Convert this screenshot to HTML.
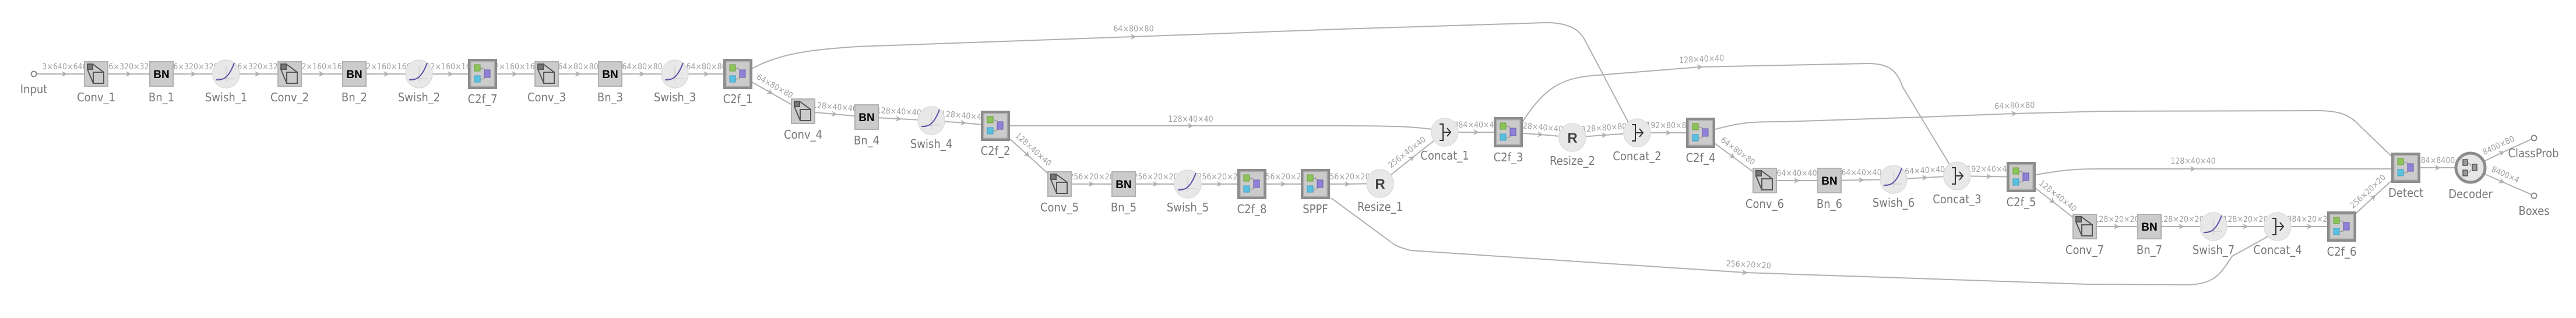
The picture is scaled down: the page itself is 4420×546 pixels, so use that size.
<!DOCTYPE html>
<html><head><meta charset="utf-8"><style>
html,body{margin:0;padding:0;background:#fff;}
svg{display:block;}
.el{font-family:"DejaVu Sans Condensed","Liberation Sans",sans-serif;font-size:14px;fill:#a0a0a0;text-anchor:middle;}
.nl{font-family:"DejaVu Sans Condensed","Liberation Sans",sans-serif;font-size:20px;fill:#777;text-anchor:middle;}
.bn{font-family:"Liberation Sans",sans-serif;font-weight:bold;font-size:19px;fill:#000;text-anchor:middle;}
.r{font-family:"Liberation Sans",sans-serif;font-weight:bold;font-size:24px;fill:#444;text-anchor:middle;}
.e{fill:none;stroke:#b0b0b0;stroke-width:2;marker-mid:url(#ar);}
.e2{fill:none;stroke:#b0b0b0;stroke-width:2;}
</style></head><body>
<svg width="4420" height="546" viewBox="0 0 4420 546" xmlns="http://www.w3.org/2000/svg">
<defs>
<marker id="ar" markerUnits="userSpaceOnUse" markerWidth="14" markerHeight="12" refX="5" refY="6" orient="auto" viewBox="0 0 14 12"><path d="M0,1 L10,6 L0,11 L3,6z" fill="#b0b0b0"/></marker>
<path id="ah" d="M-5,-5 L5,0 L-5,5 L-2,0z" fill="#b0b0b0"/>
<g id="conv"><rect x="-20" y="-21" width="40" height="42" fill="#cbcbcb" stroke="#b0b0b0" stroke-width="2"/><rect x="-15" y="-17" width="9" height="9" fill="#777" stroke="#555" stroke-width="2"/><rect x="-5" y="-3" width="18" height="19" fill="none" stroke="#555" stroke-width="2"/><path d="M-6,-17 L13,-3 M-15,-8 L-5,16" stroke="#555" stroke-width="2" fill="none"/></g>
<g id="bnb"><rect x="-20" y="-21" width="40" height="42" fill="#cbcbcb" stroke="#b0b0b0" stroke-width="2"/></g>
<g id="sw"><ellipse rx="23" ry="24" fill="#e8e8e8" stroke="#dcdcdc" stroke-width="1.5"/><path d="M0,-14 V14 M-15,8 H15" stroke="#c8c8c8" stroke-width="1"/><path d="M-17,10 C-6,11 4,8 14,-19" stroke="#5a52a8" stroke-width="2" fill="none"/></g>
<g id="c2f"><rect x="-25" y="-26" width="50" height="52" fill="#8c8c8c"/><rect x="-20" y="-21" width="40" height="42" fill="#cbcbcb" stroke="#b5b5b5" stroke-width="1.5"/><path d="M-4,-10 Q4,-10 4,-5 M-4,9 Q4,9 4,5" stroke="#888" stroke-width="1" fill="none"/><rect x="-14" y="-16" width="10" height="11" fill="#8dc45a" stroke="#6a9e3a"/><rect x="-14" y="3" width="10" height="11" fill="#5bc0e0" stroke="#3a9ec0"/><rect x="3" y="-7" width="10" height="13" fill="#9080d8" stroke="#6a5aa8"/></g>
<g id="cat"><ellipse rx="23" ry="24" fill="#e8e8e8" stroke="#dcdcdc" stroke-width="1.5"/><path d="M-9,-14 H-3 V14 H-9 M-3,0 H10 M4,-7 L10,0 L4,7" stroke="#333" stroke-width="2" fill="none"/></g>
<g id="rs"><ellipse rx="23" ry="24" fill="#e8e8e8" stroke="#dcdcdc" stroke-width="1.5"/></g>
<g id="io"><circle r="4.5" fill="#fff" stroke="#888" stroke-width="2"/></g>
</defs>

<!-- long edges -->
<path class="e2" d="M1290,118 C1340,90 1400,85 1470,80 L1945,63 L2300,50 L2650,39 C2690,38 2710,50 2720,70 L2795,212"/>
<path class="e2" d="M1733,216 L2043,216 L2300,216 C2400,216 2430,218 2458,222"/>
<path class="e2" d="M2612,210 C2650,150 2680,135 2730,130 L2917,115 L3205,109 C3240,109 3255,120 3265,150 L3345,282"/>
<path class="e2" d="M2943,222 C2990,210 3000,209 3060,209 L3300,201 L3456,195 L3609,191 L3975,190 C4010,190 4030,195 4048,215 L4103,268"/>
<path class="e2" d="M3493,300 C3540,292 3560,290 3600,290 L3763,290 L4103,290"/>
<path class="e2" d="M2284,340 L2390,418 C2400,425 2405,425 2420,430 L2994,468 L3580,488 L3750,489 C3800,489 3810,470 3830,440 L3893,405"/>
<use href="#ah" transform="translate(1945,63) rotate(-2)"/>
<use href="#ah" transform="translate(2043,216)"/>
<use href="#ah" transform="translate(2917,115) rotate(-3)"/>
<use href="#ah" transform="translate(3456,195) rotate(-2)"/>
<use href="#ah" transform="translate(3763,290)"/>
<use href="#ah" transform="translate(2994,468) rotate(4)"/>
<text class="el" x="1945" y="54">64×80×80</text>
<text class="el" x="2043" y="209">128×40×40</text>
<text class="el" x="2920" y="106" transform="rotate(-3 2920 106)">128×40×40</text>
<text class="el" x="3457" y="186" transform="rotate(-2 3457 186)">64×80×80</text>
<text class="el" x="3763" y="281">128×40×40</text>
<text class="el" x="3000" y="459" transform="rotate(3 3000 459)">256×20×20</text>

<!-- short edges -->
<path class="e" d="M58,127 L111,127 L165,127"/>
<path class="e" d="M165,127 L221,127 L277,127"/>
<path class="e" d="M277,127 L332,127 L388,127"/>
<path class="e" d="M388,127 L442,127 L497,127"/>
<path class="e" d="M497,127 L552,127 L608,127"/>
<path class="e" d="M608,127 L663,127 L719,127"/>
<path class="e" d="M719,127 L773,127 L828,127"/>
<path class="e" d="M828,127 L883,127 L938,127"/>
<path class="e" d="M938,127 L992,127 L1047,127"/>
<path class="e" d="M1047,127 L1102,127 L1158,127"/>
<path class="e" d="M1158,127 L1212,127 L1266,127"/>
<path class="e" d="M1266,127 L1322,159 L1378,191"/>
<path class="e" d="M1378,191 L1432,196 L1487,201"/>
<path class="e" d="M1487,201 L1542,204 L1598,207"/>
<path class="e" d="M1598,207 L1653,211 L1708,216"/>
<path class="e" d="M1708,216 L1763,266 L1818,316"/>
<path class="e" d="M1818,316 L1873,316 L1928,316"/>
<path class="e" d="M1928,316 L1983,316 L2038,316"/>
<path class="e" d="M2038,316 L2093,316 L2148,316"/>
<path class="e" d="M2148,316 L2202,316 L2257,316"/>
<path class="e" d="M2257,316 L2312,316 L2368,315"/>
<path class="e" d="M2368,315 L2423,271 L2479,227"/>
<path class="e" d="M2479,227 L2533,227 L2588,227"/>
<path class="e" d="M2588,227 L2643,231 L2698,236"/>
<path class="e" d="M2698,236 L2753,232 L2809,228"/>
<path class="e" d="M2809,228 L2863,228 L2918,228"/>
<path class="e" d="M2918,228 L2973,269 L3028,310"/>
<path class="e" d="M3028,310 L3083,310 L3139,310"/>
<path class="e" d="M3139,310 L3194,309 L3249,308"/>
<path class="e" d="M3249,308 L3303,305 L3358,302"/>
<path class="e" d="M3358,302 L3413,303 L3468,304"/>
<path class="e" d="M3468,304 L3522,346 L3577,389"/>
<path class="e" d="M3577,389 L3632,389 L3688,389"/>
<path class="e" d="M3688,389 L3743,389 L3798,389"/>
<path class="e" d="M3798,389 L3853,389 L3908,389"/>
<path class="e" d="M3908,389 L3963,389 L4018,389"/>
<path class="e" d="M4018,389 L4073,338 L4128,288"/>
<path class="e" d="M4128,288 L4183,288 L4239,288"/>
<path class="e" d="M4239,288 L4293,262 L4348,237"/>
<path class="e" d="M4239,288 L4293,312 L4348,336"/>

<!-- edge labels -->
<g class="el">
<text x="111" y="119">3×640×640</text>
<text x="221" y="119">16×320×320</text>
<text x="332" y="119">16×320×320</text>
<text x="442" y="119">16×320×320</text>
<text x="552" y="119">32×160×160</text>
<text x="663" y="119">32×160×160</text>
<text x="773" y="119">32×160×160</text>
<text x="883" y="119">32×160×160</text>
<text x="992" y="119">64×80×80</text>
<text x="1102" y="119">64×80×80</text>
<text x="1212" y="119">64×80×80</text>
<text x="1327" y="152" transform="rotate(30 1327 152)">64×80×80</text>
<text x="1432" y="188" transform="rotate(5 1432 188)">128×40×40</text>
<text x="1542" y="196" transform="rotate(3 1542 196)">128×40×40</text>
<text x="1653" y="203" transform="rotate(5 1653 203)">128×40×40</text>
<text x="1770" y="260" transform="rotate(42 1770 260)">128×40×40</text>
<text x="1873" y="308">256×20×20</text>
<text x="1983" y="308">256×20×20</text>
<text x="2093" y="308">256×20×20</text>
<text x="2202" y="308">256×20×20</text>
<text x="2312" y="308">256×20×20</text>
<text x="2417" y="265" transform="rotate(-38 2417 265)">256×40×40</text>
<text x="2533" y="219">384×40×40</text>
<text x="2643" y="223" transform="rotate(5 2643 223)">128×40×40</text>
<text x="2753" y="224" transform="rotate(-4 2753 224)">128×80×80</text>
<text x="2863" y="220">192×80×80</text>
<text x="2979" y="263" transform="rotate(37 2979 263)">64×80×80</text>
<text x="3083" y="302">64×40×40</text>
<text x="3194" y="301">64×40×40</text>
<text x="3303" y="297" transform="rotate(-3 3303 297)">64×40×40</text>
<text x="3413" y="295">192×40×40</text>
<text x="3528" y="340" transform="rotate(38 3528 340)">128×40×40</text>
<text x="3632" y="381">128×20×20</text>
<text x="3743" y="381">128×20×20</text>
<text x="3853" y="381">128×20×20</text>
<text x="3963" y="381">384×20×20</text>
<text x="4066" y="332" transform="rotate(-43 4066 332)">256×20×20</text>
<text x="4183" y="280">84×8400</text>
<text x="4289" y="254" transform="rotate(-25 4289 254)">8400×80</text>
<text x="4297" y="304" transform="rotate(24 4297 304)">8400×4</text>
</g>

<!-- nodes -->
<use href="#io" x="58" y="127"/>
<use href="#conv" x="165" y="127"/>
<use href="#bnb" x="277" y="127"/><text class="bn" x="277" y="134">BN</text>
<use href="#sw" x="388" y="127"/>
<use href="#conv" x="497" y="127"/>
<use href="#bnb" x="608" y="127"/><text class="bn" x="608" y="134">BN</text>
<use href="#sw" x="719" y="127"/>
<use href="#c2f" x="828" y="127"/>
<use href="#conv" x="938" y="127"/>
<use href="#bnb" x="1047" y="127"/><text class="bn" x="1047" y="134">BN</text>
<use href="#sw" x="1158" y="127"/>
<use href="#c2f" x="1266" y="127"/>
<use href="#conv" x="1378" y="191"/>
<use href="#bnb" x="1487" y="201"/><text class="bn" x="1487" y="208">BN</text>
<use href="#sw" x="1598" y="207"/>
<use href="#c2f" x="1708" y="216"/>
<use href="#conv" x="1818" y="316"/>
<use href="#bnb" x="1928" y="316"/><text class="bn" x="1928" y="323">BN</text>
<use href="#sw" x="2038" y="316"/>
<use href="#c2f" x="2148" y="316"/>
<use href="#c2f" x="2257" y="316"/>
<use href="#rs" x="2368" y="315"/><text class="r" x="2368" y="324">R</text>
<use href="#cat" x="2479" y="227"/>
<use href="#c2f" x="2588" y="227"/>
<use href="#rs" x="2698" y="236"/><text class="r" x="2698" y="245">R</text>
<use href="#cat" x="2809" y="228"/>
<use href="#c2f" x="2918" y="228"/>
<use href="#conv" x="3028" y="310"/>
<use href="#bnb" x="3139" y="310"/><text class="bn" x="3139" y="317">BN</text>
<use href="#sw" x="3249" y="308"/>
<use href="#cat" x="3358" y="302"/>
<use href="#c2f" x="3468" y="304"/>
<use href="#conv" x="3577" y="389"/>
<use href="#bnb" x="3688" y="389"/><text class="bn" x="3688" y="396">BN</text>
<use href="#sw" x="3798" y="389"/>
<use href="#cat" x="3908" y="389"/>
<use href="#c2f" x="4018" y="389"/>
<use href="#c2f" x="4128" y="288"/>
<g transform="translate(4239,288)"><circle r="25" fill="#e6e6e6" stroke="#8c8c8c" stroke-width="5"/><path d="M-6,-8 Q0,-8 0,-3 M-6,8 Q0,8 0,3" stroke="#888" fill="none"/><rect x="-13" y="-14" width="8" height="10" fill="#999" stroke="#555" stroke-width="1.5"/><rect x="-13" y="4" width="8" height="10" fill="#999" stroke="#555" stroke-width="1.5"/><rect x="3" y="-6" width="8" height="11" fill="#999" stroke="#555" stroke-width="1.5"/></g>
<use href="#io" x="4348" y="237"/>
<use href="#io" x="4348" y="336"/>

<!-- node labels -->
<g class="nl">
<text x="58" y="160">Input</text>
<text x="165" y="174">Conv_1</text>
<text x="277" y="174">Bn_1</text>
<text x="388" y="174">Swish_1</text>
<text x="497" y="174">Conv_2</text>
<text x="608" y="174">Bn_2</text>
<text x="719" y="174">Swish_2</text>
<text x="828" y="177">C2f_7</text>
<text x="938" y="174">Conv_3</text>
<text x="1047" y="174">Bn_3</text>
<text x="1158" y="174">Swish_3</text>
<text x="1266" y="177">C2f_1</text>
<text x="1378" y="238">Conv_4</text>
<text x="1487" y="248">Bn_4</text>
<text x="1598" y="254">Swish_4</text>
<text x="1708" y="266">C2f_2</text>
<text x="1818" y="363">Conv_5</text>
<text x="1928" y="363">Bn_5</text>
<text x="2038" y="363">Swish_5</text>
<text x="2148" y="366">C2f_8</text>
<text x="2257" y="366">SPPF</text>
<text x="2368" y="362">Resize_1</text>
<text x="2479" y="274">Concat_1</text>
<text x="2588" y="277">C2f_3</text>
<text x="2698" y="283">Resize_2</text>
<text x="2809" y="275">Concat_2</text>
<text x="2918" y="278">C2f_4</text>
<text x="3028" y="357">Conv_6</text>
<text x="3139" y="357">Bn_6</text>
<text x="3249" y="355">Swish_6</text>
<text x="3358" y="349">Concat_3</text>
<text x="3468" y="354">C2f_5</text>
<text x="3577" y="436">Conv_7</text>
<text x="3688" y="436">Bn_7</text>
<text x="3798" y="436">Swish_7</text>
<text x="3908" y="436">Concat_4</text>
<text x="4018" y="439">C2f_6</text>
<text x="4128" y="338">Detect</text>
<text x="4239" y="340">Decoder</text>
<text x="4347" y="270">ClassProb</text>
<text x="4348" y="369">Boxes</text>
</g>
</svg>
</body></html>
